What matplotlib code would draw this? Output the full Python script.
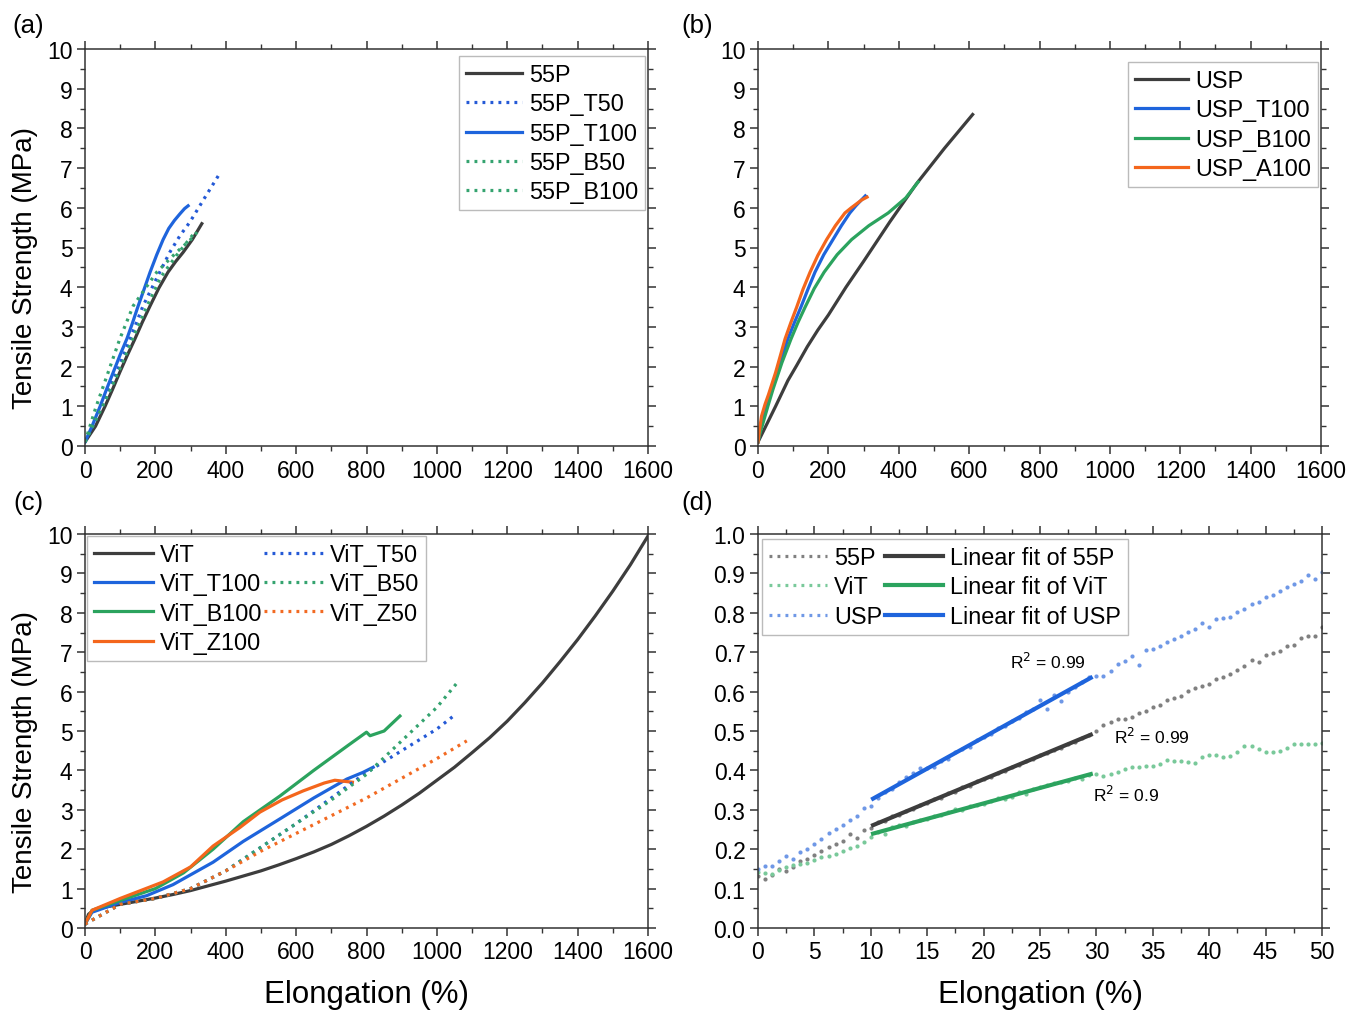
import numpy as np
import matplotlib
matplotlib.use("Agg")
import matplotlib.pyplot as plt
from matplotlib.lines import Line2D
from matplotlib.ticker import MultipleLocator, FormatStrFormatter

plt.rcParams['font.family'] = ['Liberation Sans', 'DejaVu Sans']

# ---------------- colours ----------------
C_BLACK = "#3d3d3d"
C_BLUE = "#1e64dc"
C_GREEN = "#2ba35e"
C_ORANGE = "#f4661c"
C_BLUE_DOT = "#2459d6"
C_GREEN_DOT = "#34a36f"
C_ORANGE_DOT = "#f26a22"

# ---------------- (a) 55P series ----------------
p55_x = [0, 30, 57, 78, 99, 120, 142, 163, 185, 210, 236, 258, 279, 305, 332]
p55_y = [0.1, 0.5, 1.0, 1.42, 1.86, 2.28, 2.7, 3.12, 3.53, 3.98, 4.38, 4.65,
         4.88, 5.2, 5.6]
p55_t50_x = [0, 45, 90, 128, 165, 205, 241, 270, 298, 340, 384]
p55_t50_y = [0.1, 0.95, 1.86, 2.7, 3.53, 4.25, 4.88, 5.3, 5.64, 6.25, 6.88]
p55_t100_x = [0, 20, 43, 60, 80, 100, 119, 135, 150, 168, 185, 204, 222,
              238, 254, 270, 283, 293]
p55_t100_y = [0.1, 0.5, 1.0, 1.4, 1.85, 2.3, 2.7, 3.1, 3.5, 3.95, 4.38, 4.82,
              5.2, 5.48, 5.68, 5.85, 5.98, 6.05]
p55_b50_x = [0, 50, 95, 135, 175, 215, 260, 300, 315]
p55_b50_y = [0.1, 1.0, 1.86, 2.7, 3.5, 4.25, 4.8, 5.25, 5.4]
p55_b100_x = [0, 30, 66, 99, 137, 170, 204, 260, 300, 327]
p55_b100_y = [0.1, 0.95, 1.86, 2.7, 3.53, 3.95, 4.38, 4.88, 5.2, 5.47]

# ---------------- (b) USP series ----------------
usp_x = [0, 25, 50, 85, 110, 140, 170, 200, 250, 300, 375, 450, 530, 610]
usp_y = [0.1, 0.55, 1.0, 1.65, 2.03, 2.5, 2.92, 3.3, 4.0, 4.65, 5.65, 6.6,
         7.5, 8.35]
usp_t100_x = [0, 5, 10, 20, 35, 60, 85, 103, 122, 142, 162, 187, 213, 237,
              261, 278, 292, 305]
usp_t100_y = [0.1, 0.35, 0.6, 0.9, 1.3, 2.0, 2.7, 3.1, 3.5, 3.95, 4.38, 4.82,
              5.2, 5.55, 5.87, 6.05, 6.18, 6.3]
usp_b100_x = [0, 5, 15, 28, 43, 68, 94, 114, 134, 160, 188, 225, 266, 315,
              370, 420, 455]
usp_b100_y = [0.1, 0.3, 0.6, 1.0, 1.44, 2.1, 2.7, 3.12, 3.5, 3.97, 4.38, 4.82,
              5.2, 5.55, 5.87, 6.25, 6.65]
usp_a100_x = [0, 5, 10, 20, 30, 50, 77, 93, 110, 128, 148, 170, 195, 220,
              247, 265, 280, 295, 310]
usp_a100_y = [0.1, 0.45, 0.75, 1.05, 1.3, 1.85, 2.7, 3.1, 3.5, 3.95, 4.38,
              4.8, 5.2, 5.55, 5.87, 6.0, 6.1, 6.2, 6.27]

# ---------------- (c) ViT series ----------------
vit_x = [0, 10, 25, 50, 100, 150, 200, 250, 300, 350, 400, 450, 500, 550,
         600, 650, 700, 750, 800, 850, 900, 950, 1000, 1050, 1100, 1150,
         1200, 1250, 1300, 1350, 1400, 1450, 1500, 1550, 1600]
vit_y = [0.1, 0.35, 0.45, 0.52, 0.6, 0.68, 0.76, 0.85, 0.95, 1.07, 1.19,
         1.32, 1.45, 1.6, 1.76, 1.93, 2.12, 2.34, 2.58, 2.84, 3.12, 3.42,
         3.75, 4.08, 4.45, 4.83, 5.25, 5.72, 6.22, 6.76, 7.32, 7.92, 8.55,
         9.22, 9.95]
vit_t100_x = [0, 20, 100, 175, 250, 364, 450, 554, 650, 744, 790, 819]
vit_t100_y = [0.1, 0.4, 0.65, 0.82, 1.1, 1.67, 2.2, 2.77, 3.3, 3.78, 3.95, 4.08]
vit_b100_x = [0, 20, 100, 200, 280, 364, 450, 554, 650, 750, 800, 810,
              850, 895]
vit_b100_y = [0.1, 0.45, 0.7, 1.0, 1.4, 2.0, 2.7, 3.35, 4.0, 4.65, 4.97,
              4.88, 5.0, 5.38]
vit_z100_x = [0, 20, 100, 222, 300, 364, 440, 497, 560, 620, 680, 710, 760]
vit_z100_y = [0.1, 0.45, 0.75, 1.17, 1.55, 2.08, 2.55, 2.94, 3.25, 3.48,
              3.68, 3.75, 3.7]
vit_t50_x = [0, 100, 200, 300, 400, 500, 600, 700, 800, 900, 1000, 1050]
vit_t50_y = [0.1, 0.6, 0.75, 1.0, 1.45, 2.05, 2.65, 3.3, 3.95, 4.5, 5.05, 5.4]
vit_b50_x = [0, 100, 200, 300, 400, 500, 600, 700, 800, 900, 1000, 1060]
vit_b50_y = [0.1, 0.6, 0.75, 1.0, 1.45, 2.05, 2.65, 3.25, 3.9, 4.75, 5.6, 6.25]
vit_z50_x = [0, 100, 200, 300, 400, 500, 600, 700, 800, 900, 1000, 1085]
vit_z50_y = [0.1, 0.6, 0.75, 1.0, 1.45, 1.95, 2.4, 2.85, 3.3, 3.8, 4.3, 4.75]

# ---------------- (d) low-strain region ----------------
d_x = [0.625 * i for i in range(81)]
d_usp = [0.150, 0.158, 0.157, 0.170, 0.182, 0.176, 0.193, 0.200,
         0.212, 0.226, 0.240, 0.252, 0.262, 0.274, 0.285, 0.305,
         0.309, 0.330, 0.346, 0.352, 0.371, 0.382, 0.394, 0.405,
         0.405, 0.408, 0.425, 0.430, 0.447, 0.455, 0.460, 0.476,
         0.486, 0.492, 0.507, 0.512, 0.526, 0.533, 0.548, 0.556,
         0.578, 0.557, 0.592, 0.575, 0.600, 0.612, 0.625, 0.636,
         0.640, 0.640, 0.652, 0.670, 0.677, 0.690, 0.668, 0.706,
         0.708, 0.716, 0.725, 0.733, 0.740, 0.752, 0.758, 0.775,
         0.765, 0.785, 0.788, 0.790, 0.802, 0.810, 0.822, 0.828,
         0.840, 0.845, 0.855, 0.866, 0.872, 0.880, 0.895, 0.887,
         0.903]
d_55p = [0.133, 0.124, 0.135, 0.150, 0.145, 0.156, 0.170, 0.176,
         0.185, 0.195, 0.205, 0.212, 0.220, 0.238, 0.228, 0.248,
         0.255, 0.268, 0.272, 0.284, 0.287, 0.297, 0.302, 0.313,
         0.317, 0.327, 0.331, 0.342, 0.346, 0.357, 0.361, 0.372,
         0.378, 0.384, 0.394, 0.398, 0.409, 0.413, 0.423, 0.428,
         0.438, 0.445, 0.452, 0.458, 0.468, 0.473, 0.482, 0.489,
         0.500, 0.515, 0.522, 0.530, 0.530, 0.536, 0.546, 0.552,
         0.562, 0.566, 0.578, 0.584, 0.590, 0.602, 0.610, 0.615,
         0.619, 0.632, 0.636, 0.645, 0.656, 0.664, 0.680, 0.675,
         0.693, 0.697, 0.704, 0.715, 0.719, 0.735, 0.742, 0.742,
         0.763]
d_vit = [0.141, 0.140, 0.138, 0.148, 0.155, 0.160, 0.163, 0.166,
         0.172, 0.179, 0.182, 0.188, 0.195, 0.202, 0.208, 0.218,
         0.232, 0.244, 0.238, 0.256, 0.262, 0.258, 0.268, 0.275,
         0.276, 0.284, 0.287, 0.295, 0.303, 0.300, 0.310, 0.311,
         0.315, 0.322, 0.330, 0.328, 0.333, 0.346, 0.340, 0.353,
         0.357, 0.363, 0.367, 0.370, 0.373, 0.381, 0.377, 0.388,
         0.392, 0.386, 0.391, 0.396, 0.404, 0.408, 0.408, 0.410,
         0.410, 0.416, 0.427, 0.425, 0.424, 0.422, 0.420, 0.433,
         0.440, 0.440, 0.433, 0.437, 0.447, 0.461, 0.461, 0.455,
         0.446, 0.446, 0.450, 0.458, 0.467, 0.467, 0.467, 0.467,
         0.470]
fit_range = (10.2, 29.5)
r2_labels = ["R$^2$ = 0.99", "R$^2$ = 0.99", "R$^2$ = 0.9"]

# ---------------- figure ----------------
W, H = 1349, 1012
fig = plt.figure(figsize=(W / 100, H / 100), dpi=100)


def frac(left, top, right, bottom):
    return [left / W, 1 - bottom / H, (right - left) / W, (bottom - top) / H]


ax_a = fig.add_axes(frac(85, 50, 648, 447))
ax_b = fig.add_axes(frac(758, 50, 1321, 447))
ax_c = fig.add_axes(frac(85, 535, 648, 929))
ax_d = fig.add_axes(frac(758, 535, 1322, 929))

LW = 2.3
DOT = (0, (0.9, 1.6))
TICK_FS = 16.5
LEG_FS = 16.8


def style(ax, xmax, xmaj, xmin, ymax, ymaj, ymin):
    ax.set_xlim(0, xmax)
    ax.set_ylim(0, ymax)
    ax.xaxis.set_major_locator(MultipleLocator(xmaj))
    ax.xaxis.set_minor_locator(MultipleLocator(xmin))
    ax.yaxis.set_major_locator(MultipleLocator(ymaj))
    ax.yaxis.set_minor_locator(MultipleLocator(ymin))
    for s in ax.spines.values():
        s.set_color("#333333")
        s.set_linewidth(1.1)
    ax.tick_params(which="both", direction="out", top=True, right=True,
                   color="#333333", labelsize=TICK_FS, pad=3)
    ax.tick_params(which="major", length=6, width=1.1)
    ax.tick_params(which="minor", length=3.5, width=1.0)


for ax in (ax_a, ax_b, ax_c):
    style(ax, 1600, 200, 100, 10, 1, 0.5)
style(ax_d, 50, 5, 2.5, 1.0, 0.1, 0.05)
ax_d.yaxis.set_major_formatter(FormatStrFormatter("%.1f"))

# (a)
ax_a.plot(p55_x, p55_y, color=C_BLACK, lw=LW, label="55P")
ax_a.plot(p55_t50_x, p55_t50_y, color=C_BLUE_DOT, lw=LW, ls=DOT, label="55P_T50")
ax_a.plot(p55_t100_x, p55_t100_y, color=C_BLUE, lw=LW, label="55P_T100")
ax_a.plot(p55_b50_x, p55_b50_y, color=C_GREEN_DOT, lw=LW, ls=DOT, label="55P_B50")
ax_a.plot(p55_b100_x, p55_b100_y, color=C_GREEN_DOT, lw=LW, ls=DOT, label="55P_B100")

# (b)
ax_b.plot(usp_x, usp_y, color=C_BLACK, lw=LW, label="USP")
ax_b.plot(usp_t100_x, usp_t100_y, color=C_BLUE, lw=LW, label="USP_T100")
ax_b.plot(usp_b100_x, usp_b100_y, color=C_GREEN, lw=LW, label="USP_B100")
ax_b.plot(usp_a100_x, usp_a100_y, color=C_ORANGE, lw=LW, label="USP_A100")

# (c)
ax_c.plot(vit_x, vit_y, color=C_BLACK, lw=LW, label="ViT")
ax_c.plot(vit_t100_x, vit_t100_y, color=C_BLUE, lw=LW, label="ViT_T100")
ax_c.plot(vit_b100_x, vit_b100_y, color=C_GREEN, lw=LW, label="ViT_B100")
ax_c.plot(vit_z100_x, vit_z100_y, color=C_ORANGE, lw=LW, label="ViT_Z100")
ax_c.plot(vit_t50_x, vit_t50_y, color=C_BLUE_DOT, lw=LW, ls=DOT, label="ViT_T50")
ax_c.plot(vit_b50_x, vit_b50_y, color=C_GREEN_DOT, lw=LW, ls=DOT, label="ViT_B50")
ax_c.plot(vit_z50_x, vit_z50_y, color=C_ORANGE_DOT, lw=LW, ls=DOT, label="ViT_Z50")

# (d) measured points and linear fits over the 10-30 % window
dot_cols = {"55P": "#808080", "ViT": "#79c99a", "USP": "#6f98e6"}
fit_cols = {"55P": C_BLACK, "ViT": C_GREEN, "USP": C_BLUE}
series_d = {"55P": d_55p, "ViT": d_vit, "USP": d_usp}
dx = np.array(d_x)
for name, ys in series_d.items():
    ax_d.plot(dx, ys, ls="none", marker="o", ms=3.0, mew=0,
              color=dot_cols[name], zorder=2)
for name, ys in series_d.items():
    ya = np.array(ys)
    m = (dx >= 10) & (dx <= 29.5)
    k, b = np.polyfit(dx[m], ya[m], 1)
    xf = np.array(fit_range)
    ax_d.plot(xf, k * xf + b, color=fit_cols[name], lw=3, zorder=3)

ax_d.text(25.7, 0.678, r2_labels[0], fontsize=12.5, ha="center", va="center")
ax_d.text(34.9, 0.487, r2_labels[1], fontsize=12.5, ha="center", va="center")
ax_d.text(32.6, 0.34, r2_labels[2], fontsize=12.5, ha="center", va="center")

# legends
leg_kw = dict(frameon=True, fancybox=False, framealpha=1, edgecolor="#bbbbbb",
              borderpad=0.3, labelspacing=0.27, handletextpad=0.3,
              borderaxespad=0, fontsize=LEG_FS)
ax_a.legend(loc="upper right", bbox_to_anchor=(0.995, 0.982),
            handlelength=2.4, **leg_kw)
ax_b.legend(loc="upper right", bbox_to_anchor=(0.995, 0.967),
            handlelength=2.3, **leg_kw)
ax_c.legend(loc="upper left", bbox_to_anchor=(0.004, 0.995),
            handlelength=2.5, ncol=2, columnspacing=0.1, **leg_kw)

d_handles = [Line2D([], [], color=dot_cols[n], lw=2.3, ls=DOT) for n in series_d] + \
            [Line2D([], [], color=fit_cols[n], lw=3) for n in series_d]
d_labels = list(series_d) + ["Linear fit of " + n for n in series_d]
ax_d.legend(d_handles, d_labels, loc="upper left", bbox_to_anchor=(0.007, 0.987),
            handlelength=2.5, ncol=2, columnspacing=0.1, **leg_kw)

# axis titles
for ax in (ax_a, ax_c):
    ax.set_ylabel("Tensile Strength (MPa)", fontsize=20, labelpad=5)
    ax.yaxis.set_label_coords(-0.083, 0.45)
for ax in (ax_c, ax_d):
    ax.set_xlabel("Elongation (%)", fontsize=22.5, labelpad=11)

# panel letters
for lbl, (px, py) in zip(["(a)", "(b)", "(c)", "(d)"],
                         [(28, 26), (697, 26), (28, 503), (697, 503)]):
    fig.text(px / W, 1 - py / H, lbl, fontsize=18.5, ha="center", va="center")

fig.savefig("out.png", dpi=100)
